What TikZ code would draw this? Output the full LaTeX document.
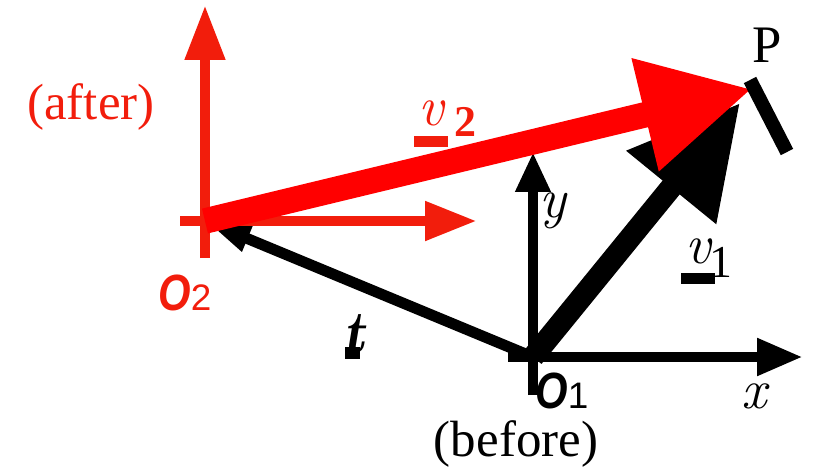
\documentclass[tikz,border=0pt]{standalone}
\usepackage{fontspec}
\setmainfont{Liberation Serif}
\setsansfont{Liberation Sans}
\usepackage{xcolor}
\usepackage{tikz}
\usetikzlibrary{arrows.meta, positioning}

\definecolor{axisred}{RGB}{242,29,12}
\definecolor{vecred}{RGB}{255,0,0}

% serif italic for the symbols
\newcommand{\symit}{\fontfamily{lmr}\selectfont\itshape}
% underline bar under a vector letter: shift, raise, width
\newcommand{\ubar}[3]{\makebox[0pt][l]{\hspace{#1}\rule[#2]{#3}{0.2em}}}
% origin letter
\newcommand{\orig}[1]{\scalebox{0.82}[1]{\fontsize{29}{29}\selectfont\bfseries\itshape O}{\fontsize{21}{21}\selectfont #1}}

\begin{document}
\begin{tikzpicture}[
    x=0.02cm, y=-0.02cm,
    axis/.style={line width=6.2pt},
    lbl/.style={inner sep=0pt, font=\fontsize{29}{30}\selectfont},
    ilbl/.style={inner sep=0pt, font=\fontsize{32}{32}\selectfont\symit},
    olbl/.style={inner sep=0pt, anchor=base west, font=\sffamily}
]
\useasboundingbox (0,0) rectangle (816,471);

% ORIGINS AND END POINTS
\coordinate (O1) at (533,357);
\coordinate (O2) at (205,221);
\coordinate (P) at (752,89);
\coordinate (V1) at (740,103);
\coordinate (X1a) at (508,357);
\coordinate (X1b) at (803,357);
\coordinate (Y1a) at (533,395);
\coordinate (Y1b) at (533,152);
\coordinate (X2a) at (180,221);
\coordinate (X2b) at (477,221);
\coordinate (Y2a) at (205,258);
\coordinate (Y2b) at (205,5);
\coordinate (Ta) at (750,80);
\coordinate (Tb) at (787,152);

% FRAME 1: BEFORE
\draw[axis, -{Triangle[length=0.92cm, width=0.70cm]}] (X1a) -- (X1b);
\draw[axis, -{Triangle[length=0.80cm, width=0.66cm]}] (Y1a) -- (Y1b);

% TRANSLATION
\draw[axis, -{Triangle[length=0.92cm, width=0.50cm]}] (O1) -- (O2);

% FRAME 2: AFTER
\draw[axis, axisred, -{Triangle[length=1.10cm, width=0.76cm]}] (Y2a) -- (Y2b);
\draw[axis, axisred, -{Triangle[length=1.04cm, width=0.74cm]}] (X2a) -- (X2b);

% Vectors to P
\draw[line width=12.5pt, -{Triangle[length=2.18cm, width=2.2cm]}] (O1) -- (V1);
\draw[line width=14.5pt, vecred, -{Triangle[length=2.2cm, width=2.18cm]}] (O2) -- (P);
\draw[line width=7.9pt] (Ta) -- (Tb);

% Labels
\node[lbl, text=axisred] (after) at (91,107) {(after)};
\node[lbl] (before) at (516,444) {(before)};
\node[lbl, font=\fontsize{30}{30}\selectfont] (Plbl) at (767,45) {P};
\node[ilbl] (ylbl) at (553,211) {y};
\node[ilbl] (xlbl) at (754,396) {x};
\node[inner sep=0pt, anchor=base west, font=\fontsize{34}{34}\selectfont\symit\bfseries] (tlbl) at (343,352)
    {\ubar{0.02em}{-0.12em}{0.26em}t};
\node[inner sep=0pt, anchor=base west, text=axisred, font=\fontsize{32}{32}\selectfont] (v2lbl) at (418,125)
    {\ubar{-0.07em}{-0.4em}{0.59em}{\symit v}\hspace{0.2em}\raisebox{-0.21em}{\fontsize{25}{25}\selectfont\bfseries 2}};
\node[inner sep=0pt, anchor=base west, font=\fontsize{32}{32}\selectfont] (v1lbl) at (685,263)
    {\ubar{-0.07em}{-0.38em}{0.59em}{\symit v}\hspace{-0.02em}\raisebox{-0.25em}{\fontsize{26}{26}\selectfont 1}};
\node[olbl, text=axisred] (O2lbl) at (158,310) {\orig{2}};
\node[olbl] (O1lbl) at (535,408) {\orig{1}};

\end{tikzpicture}
\end{document}
